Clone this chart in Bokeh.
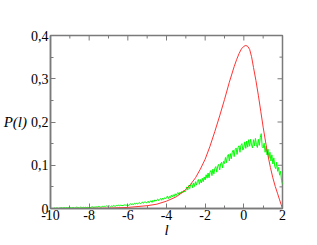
import numpy as np
from bokeh.plotting import figure
from bokeh.models import (Range1d, LinearAxis, FixedTicker, CustomJSTickFormatter)
from bokeh.embed import file_html
from bokeh.resources import INLINE

# ---- data ----
red_l = [-10.0, -9.0, -8.0, -7.0, -6.0, -5.0, -4.5, -4.0, -3.5, -3.25, -3.0, -2.75,
         -2.5, -2.25, -2.0, -1.75, -1.5, -1.25, -1.0, -0.75, -0.5, -0.375, -0.25,
         -0.125, 0.0, 0.1, 0.2, 0.3, 0.4, 0.5, 0.625, 0.75, 0.875, 1.0, 1.125,
         1.25, 1.375, 1.5, 1.625, 1.75, 1.85, 1.93, 2.0]
red_p = [0.000, 0.0001, 0.0003, 0.0009, 0.0025, 0.0065, 0.010, 0.017, 0.027, 0.035,
         0.044, 0.056, 0.071, 0.091, 0.114, 0.144, 0.178, 0.214, 0.252, 0.292,
         0.328, 0.344, 0.358, 0.369, 0.375, 0.377, 0.375, 0.368, 0.351, 0.326,
         0.296, 0.262, 0.225, 0.188, 0.154, 0.122, 0.095, 0.071, 0.051, 0.034,
         0.020, 0.009, 0.000]

green_start = -10.0
green_step = 0.05
green_p = [
    0.000, 0.000, 0.000, 0.000, 0.001, 0.000, 0.001, 0.001, 0.000, 0.001,
    0.001, 0.002, 0.001, 0.001, 0.002, 0.001, 0.001, 0.002, 0.001, 0.002,
    0.001, 0.002, 0.001, 0.002, 0.002, 0.001, 0.002, 0.003, 0.002, 0.002,
    0.001, 0.003, 0.002, 0.002, 0.003, 0.002, 0.003, 0.002, 0.003, 0.002,
    0.003, 0.002, 0.003, 0.004, 0.003, 0.002, 0.004, 0.003, 0.004, 0.003,
    0.005, 0.004, 0.003, 0.004, 0.005, 0.004, 0.005, 0.004, 0.006, 0.005,
    0.005, 0.006, 0.004, 0.006, 0.005, 0.007, 0.006, 0.005, 0.007, 0.006,
    0.008, 0.006, 0.007, 0.008, 0.006, 0.008, 0.007, 0.009, 0.007, 0.008,
    0.009, 0.007, 0.010, 0.011, 0.008, 0.011, 0.009, 0.012, 0.010, 0.013,
    0.010, 0.012, 0.014, 0.011, 0.013, 0.015, 0.012, 0.014, 0.016, 0.013,
    0.014, 0.017, 0.013, 0.016, 0.018, 0.014, 0.019, 0.016, 0.020, 0.017,
    0.020, 0.022, 0.018, 0.021, 0.023, 0.019, 0.024, 0.021, 0.025, 0.022,
    0.025, 0.029, 0.023, 0.028, 0.025, 0.031, 0.027, 0.032, 0.028, 0.034,
    0.030, 0.035, 0.037, 0.032, 0.038, 0.034, 0.040, 0.036, 0.042, 0.038,
    0.042, 0.050, 0.043, 0.053, 0.046, 0.055, 0.059, 0.048, 0.059, 0.051,
    0.062, 0.054, 0.063, 0.067, 0.056, 0.067, 0.059, 0.070, 0.062, 0.073,
    0.066, 0.078, 0.070, 0.082, 0.071, 0.084, 0.088, 0.076, 0.091, 0.080,
    0.093, 0.097, 0.084, 0.098, 0.102, 0.089, 0.103, 0.107, 0.094, 0.109,
    0.104, 0.118, 0.106, 0.121, 0.125, 0.110, 0.127, 0.115, 0.130, 0.135,
    0.120, 0.136, 0.140, 0.125, 0.141, 0.145, 0.130, 0.146, 0.150, 0.135,
    0.141, 0.154, 0.139, 0.156, 0.142, 0.159, 0.144, 0.160, 0.147, 0.140,
    0.159, 0.145, 0.162, 0.148, 0.141, 0.160, 0.146, 0.164, 0.173, 0.143,
    0.140, 0.151, 0.130, 0.144, 0.124, 0.137, 0.116, 0.130, 0.110, 0.124,
    0.103, 0.117, 0.097, 0.092, 0.107, 0.086, 0.095, 0.077, 0.086, 0.065,
    0.056,
]
green_l = [round(green_start + i * green_step, 3) for i in range(len(green_p))]

x_ticks = [-10, -8, -6, -4, -2, 0, 2]
x_minor = [-9, -7, -5, -3, -1, 1]
y_ticks = [0.0, 0.1, 0.2, 0.3, 0.4]
y_minor = [0.05, 0.15, 0.25, 0.35]
x_title = "l"
y_title = "P(l)"

# ---- figure ----
FONT = "Liberation Serif"
AX = "#7a7a7a"
W, H = 317, 245
BL, BR, BT, BB = 49, 35, 35, 37
X0, X1, Y0, Y1 = -10, 2, 0, 0.4

p = figure(width=W, height=H, output_backend="svg", toolbar_location=None,
           x_range=Range1d(X0, X1), y_range=Range1d(Y0, Y1),
           min_border_left=BL, min_border_right=BR, min_border_top=BT,
           min_border_bottom=BB, x_axis_location=None, y_axis_location=None)
p.grid.visible = False
p.outline_line_color = AX
p.outline_line_width = 1.5
p.background_fill_color = "white"
p.border_fill_color = "white"

fmt_y = CustomJSTickFormatter(code="""
    if (Math.abs(tick) < 1e-9) { return "0"; }
    return tick.toFixed(1).replace(".", ",");
""")
fmt_x = CustomJSTickFormatter(code="return String(Math.round(tick));")


def style(ax):
    ax.axis_line_color = AX
    ax.axis_line_width = 1.5
    ax.major_tick_line_color = AX
    ax.minor_tick_line_color = AX
    ax.major_tick_in = 5
    ax.major_tick_out = 0
    ax.minor_tick_in = 3
    ax.minor_tick_out = 0
    ax.major_label_text_font = FONT
    ax.major_label_text_font_size = "14px"
    ax.major_label_text_color = "black"
    ax.axis_label_text_font = FONT
    ax.axis_label_text_font_style = "italic"
    ax.axis_label_text_font_size = "15px"
    ax.axis_label_text_color = "black"


xb = LinearAxis(ticker=FixedTicker(ticks=x_ticks, minor_ticks=x_ticks + x_minor),
                formatter=fmt_x, axis_label=x_title)
style(xb)
xb.major_label_standoff = 1
xb.axis_label_standoff = -1
p.add_layout(xb, "below")

yl = LinearAxis(ticker=FixedTicker(ticks=y_ticks, minor_ticks=y_ticks + y_minor),
                formatter=fmt_y, axis_label=y_title)
style(yl)
yl.axis_label_orientation = "horizontal"
yl.major_label_standoff = 2
yl.axis_label_standoff = 1
p.add_layout(yl, "left")

# mirrored inward ticks on the top and right edges of the frame
fw = W - BL - BR
fh = H - BT - BB
dy_major = 5 / fh * (Y1 - Y0)
dy_minor = 3 / fh * (Y1 - Y0)
dx_major = 5 / fw * (X1 - X0)
dx_minor = 3 / fw * (X1 - X0)

p.segment(x0=x_ticks, y0=[Y1] * len(x_ticks), x1=x_ticks,
          y1=[Y1 - dy_major] * len(x_ticks), line_color=AX, line_width=1)
p.segment(x0=x_minor, y0=[Y1] * len(x_minor), x1=x_minor,
          y1=[Y1 - dy_minor] * len(x_minor), line_color=AX, line_width=1)
p.segment(x0=[X1] * len(y_ticks), y0=y_ticks, x1=[X1 - dx_major] * len(y_ticks),
          y1=y_ticks, line_color=AX, line_width=1)
p.segment(x0=[X1] * len(y_minor), y0=y_minor, x1=[X1 - dx_minor] * len(y_minor),
          y1=y_minor, line_color=AX, line_width=1)

p.line(green_l, green_p, line_color="#00ff00", line_width=1)
p.line(red_l, red_p, line_color="#ff3333", line_width=1)

open("out.html", "w").write(file_html(p, INLINE))
